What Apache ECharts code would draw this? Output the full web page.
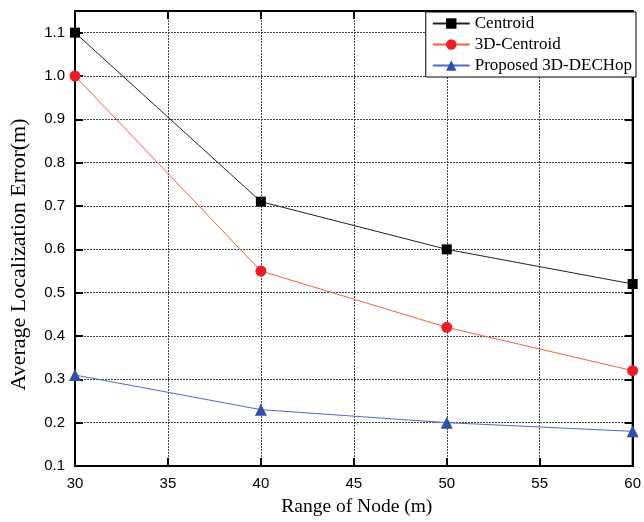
<!DOCTYPE html>
<html><head><meta charset="utf-8">
<script src="https://cdn.jsdelivr.net/npm/echarts@6/dist/echarts.min.js"></script>
<style>html,body{margin:0;padding:0;background:#fff}#c{width:644px;height:522px}</style>
</head><body><div id="c"></div>
<script>
const ranges = [30, 40, 50, 60];
const centroid = [1.10, 0.71, 0.60, 0.52];
const centroid3D = [1.00, 0.55, 0.42, 0.32];
const proposed = [0.31, 0.23, 0.20, 0.18];
const seriesNames = ['Centroid', '3D-Centroid', 'Proposed 3D-DECHop'];

const chart = echarts.init(document.getElementById('c'));
const pair = arr => ranges.map((x, i) => [x, arr[i]]);
const gridLine = {show: true, lineStyle: {color: '#444', type: [2, 1], width: 1}};
chart.setOption({
  animation: false,
  backgroundColor: '#fff',
  grid: {left: 75, right: 7, top: 11, bottom: 54, show: true, borderColor: '#000', borderWidth: 2, backgroundColor: 'transparent'},
  legend: {
    orient: 'vertical', right: 8, top: 12, itemGap: 4, itemWidth: 37, itemHeight: 13,
    backgroundColor: '#fff', borderColor: '#000', borderWidth: 1, padding: [3, 4, 3, 6],
    textStyle: {fontFamily: 'Liberation Serif', fontSize: 17, color: '#000'},
    data: seriesNames
  },
  xAxis: [{
    type: 'value', min: 30, max: 60, interval: 5,
    name: 'Range of Node (m)', nameLocation: 'middle', nameGap: 31,
    nameTextStyle: {fontFamily: 'Liberation Serif', fontSize: 19.5, color: '#000', padding: [0, 0, 0, 6]},
    axisLine: {show: true, lineStyle: {color: '#000', width: 2}},
    axisTick: {show: true, inside: true, length: 8, lineStyle: {color: '#000', width: 2}},
    axisLabel: {fontFamily: 'Liberation Sans', fontSize: 15, color: '#000', margin: 10},
    splitLine: gridLine
  }, {
    type: 'value', position: 'top', min: 30, max: 60, interval: 5,
    axisLine: {show: true, lineStyle: {color: '#000', width: 2}},
    axisTick: {show: true, inside: true, length: 8, lineStyle: {color: '#000', width: 2}},
    axisLabel: {show: false}, splitLine: {show: false}
  }],
  yAxis: [{
    type: 'value', min: 0.1, max: 1.15, interval: 0.1,
    name: 'Average Localization Error(m)', nameLocation: 'middle', nameGap: 45,
    nameTextStyle: {fontFamily: 'Liberation Serif', fontSize: 22, color: '#000', padding: [0, 32, 0, 0]},
    axisLine: {show: true, lineStyle: {color: '#000', width: 2}},
    axisTick: {show: true, inside: true, length: 8, lineStyle: {color: '#000', width: 2}},
    axisLabel: {fontFamily: 'Liberation Sans', fontSize: 15, color: '#000', margin: 10, showMaxLabel: false,
      formatter: v => v.toFixed(1)},
    splitLine: gridLine
  }, {
    type: 'value', position: 'right', min: 0.1, max: 1.15, interval: 0.1,
    axisLine: {show: true, lineStyle: {color: '#000', width: 2}},
    axisTick: {show: true, inside: true, length: 8, lineStyle: {color: '#000', width: 2}},
    axisLabel: {show: false}, splitLine: {show: false}
  }],
  series: [
    {name: seriesNames[0], type: 'line', data: pair(centroid), symbol: 'rect', symbolSize: 10,
     lineStyle: {color: '#222', width: 1}, itemStyle: {color: '#000'}},
    {name: seriesNames[1], type: 'line', data: pair(centroid3D), symbol: 'circle', symbolSize: 11,
     lineStyle: {color: '#f5603c', width: 1}, itemStyle: {color: '#ee1c24'}},
    {name: seriesNames[2], type: 'line', data: pair(proposed), symbol: 'triangle', symbolSize: 12,
     lineStyle: {color: '#5468c4', width: 1}, itemStyle: {color: '#3050a8'}}
  ]
});
</script></body></html>
